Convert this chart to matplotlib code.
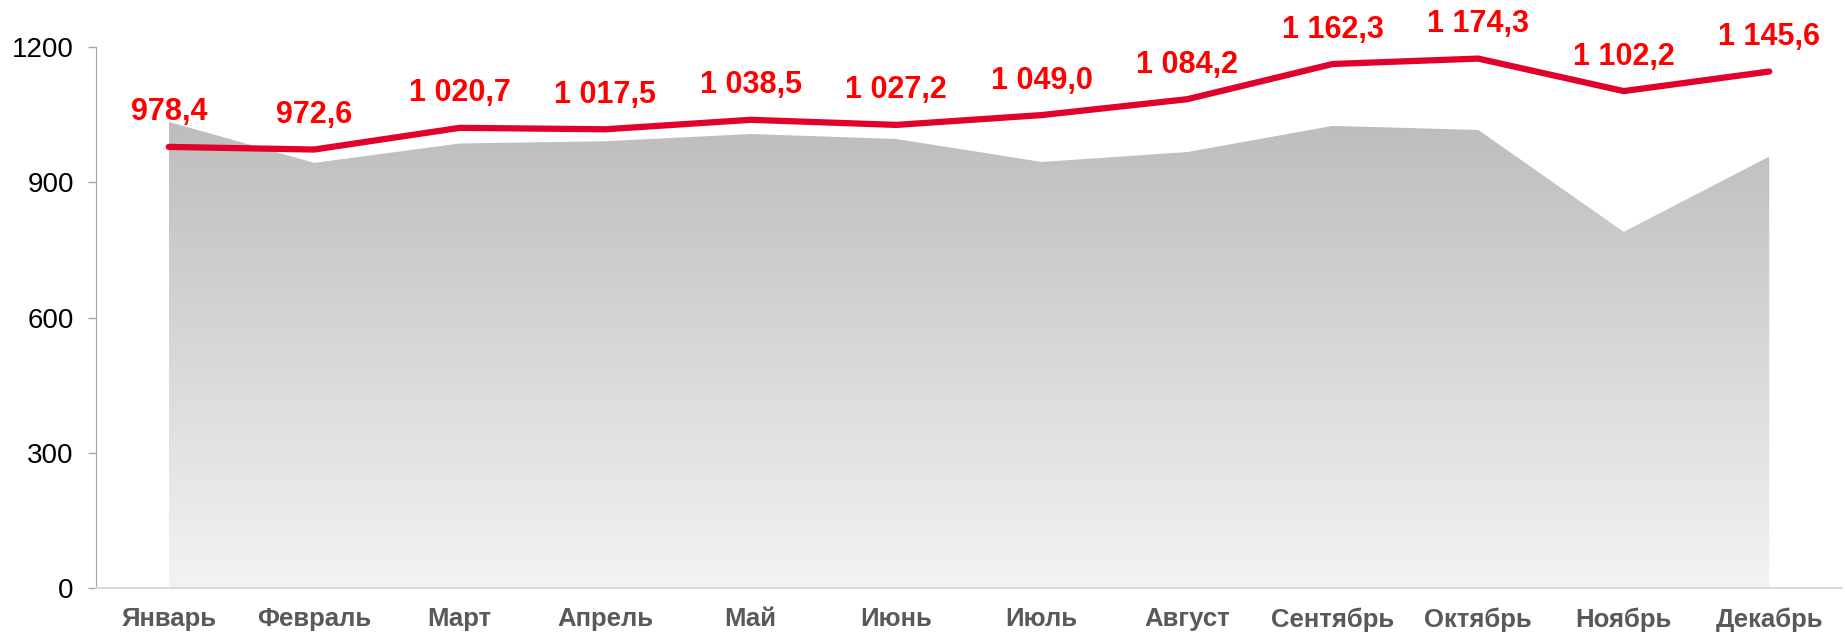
import matplotlib.pyplot as plt
import numpy as np
from matplotlib.colors import LinearSegmentedColormap

months = ['Январь', 'Февраль', 'Март', 'Апрель', 'Май', 'Июнь',
          'Июль', 'Август', 'Сентябрь', 'Октябрь', 'Ноябрь', 'Декабрь']
line_values = [978.4, 972.6, 1020.7, 1017.5, 1038.5, 1027.2,
               1049.0, 1084.2, 1162.3, 1174.3, 1102.2, 1145.6]
area_values = [1034, 943, 986, 991, 1007, 996, 945, 967, 1025, 1016, 790, 957]
yticks = [0, 300, 600, 900, 1200]

plt.rcParams['font.family'] = ['Liberation Sans', 'DejaVu Sans']

fig = plt.figure(figsize=(18.45, 6.33), dpi=100)
ax = fig.add_axes([96 / 1845, 45 / 633, (1842 - 96) / 1845, (588 - 47) / 633])

x = np.arange(len(months))

# gradient-filled area
poly = ax.fill_between(x, 0, area_values, color='none', lw=0)
cmap = LinearSegmentedColormap.from_list('g', ['#f3f3f3', '#bdbdbd'])
grad = np.linspace(0, 1, 256).reshape(-1, 1)
top = max(area_values)
img = ax.imshow(grad, cmap=cmap, aspect='auto', origin='lower',
                extent=[x[0], x[-1], 0, top], zorder=1)
path = poly.get_paths()[0]
img.set_clip_path(path, transform=ax.transData)

# red line
ax.plot(x, line_values, color='#e2002d', lw=4.5, solid_capstyle='round', zorder=3, clip_on=False)

for xi, v in zip(x, line_values):
    s = f'{v:,.1f}'.replace(',', ' ').replace('.', ',')
    ax.annotate(s, (xi, v), xytext=(0, 14), textcoords='offset points',
                ha='center', va='bottom', color='#ff0000', fontsize=22,
                fontweight='bold', clip_on=False, zorder=4)

ax.set_xlim(-0.5, 11.5)
ax.set_ylim(0, 1200)
ax.set_xticks(x)
ax.set_xticklabels(months, fontsize=18.5, fontweight='bold', color='#595959')
ax.set_yticks(yticks)
ax.set_yticklabels([str(t) for t in yticks], fontsize=20, color='black')
ax.tick_params(axis='x', length=0, pad=14)
ax.tick_params(axis='y', length=6, width=1, color='#a6a6a6', pad=10)

for side in ['top', 'right']:
    ax.spines[side].set_visible(False)
ax.spines['left'].set_color('#a6a6a6')
ax.spines['bottom'].set_color('#d9d9d9')
ax.spines['bottom'].set_linewidth(1.5)

fig.savefig('out.png', dpi=100)
